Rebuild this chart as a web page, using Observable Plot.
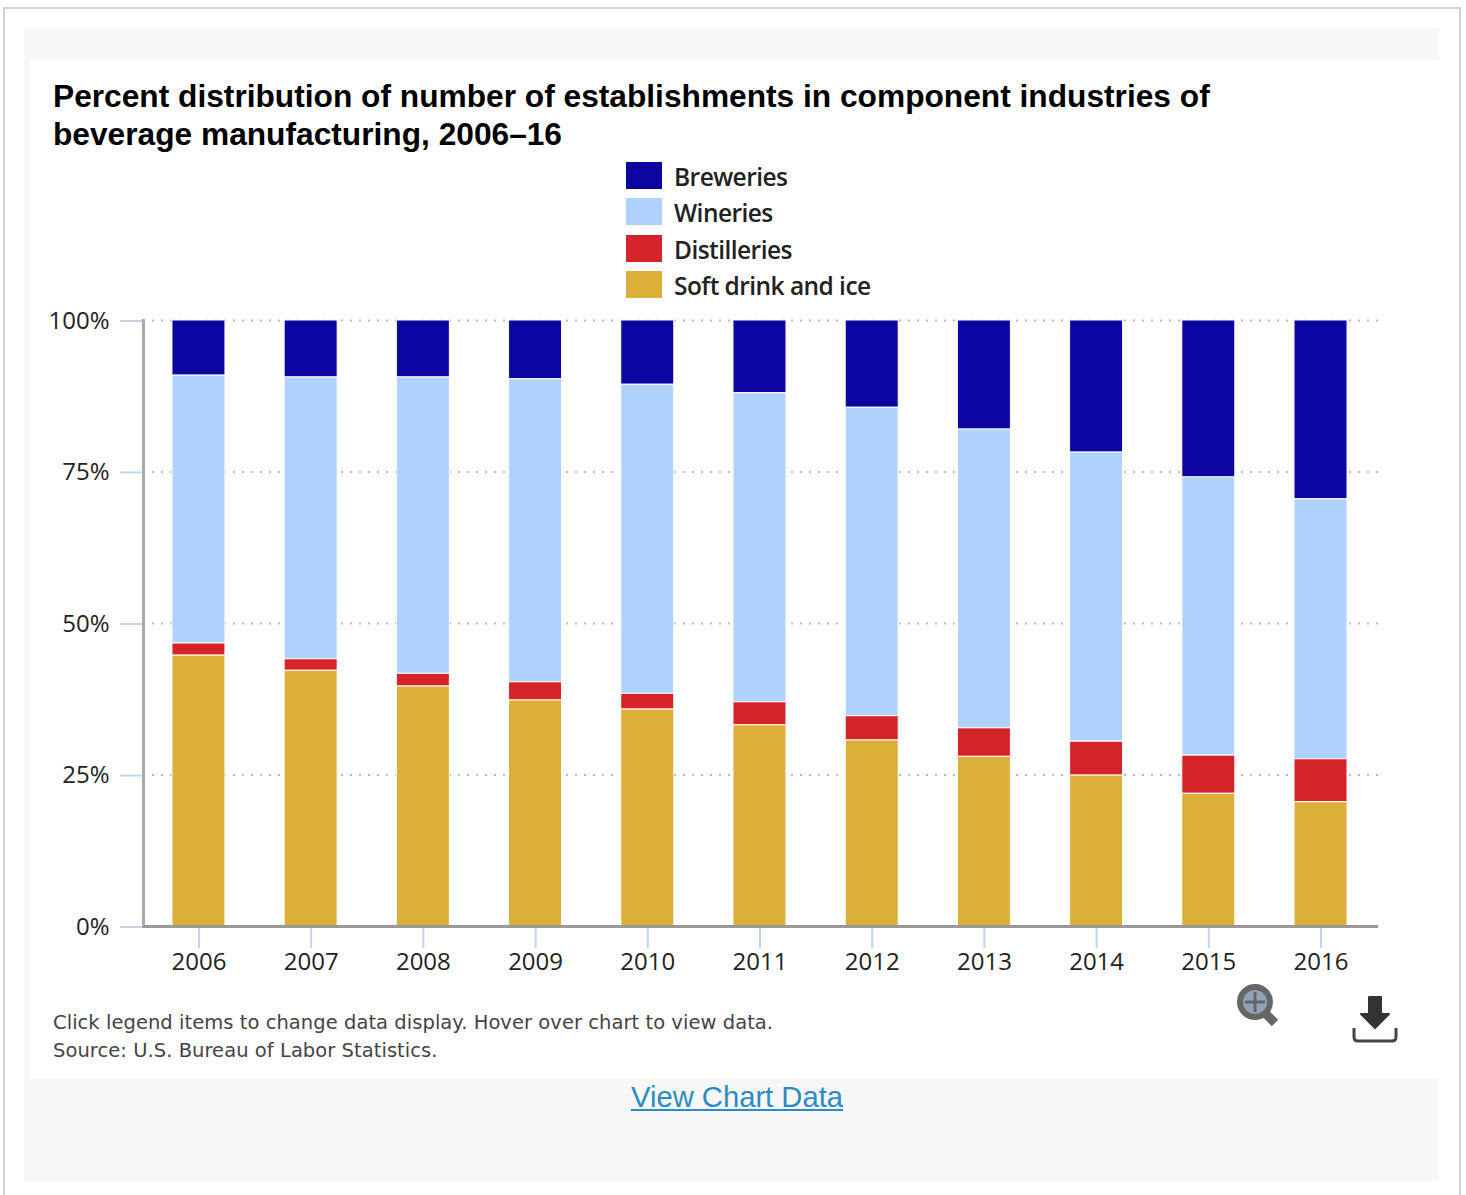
<!DOCTYPE html>
<html><head><meta charset="utf-8">
<script src="https://cdn.jsdelivr.net/npm/d3@7"></script>
<script src="https://cdn.jsdelivr.net/npm/@observablehq/plot@0.6"></script>
<style>
html,body{margin:0;padding:0;background:#fff;overflow:hidden;width:1466px;height:1195px}
#page{position:relative;width:1466px;height:1195px;overflow:hidden}
.a{position:absolute;white-space:nowrap}
#frame{left:3px;top:7px;width:1458px;height:1300px;border:2px solid #d2d2d2;box-sizing:border-box}
#grey{left:24px;top:28px;width:1415px;height:1153px;background:#f7f7f7}
#white{left:30px;top:60px;width:1409px;height:1018px;background:#fff}
#title{left:53px;top:77px;font:bold 31.7px/38px "Liberation Sans";color:#000;white-space:pre}
#legend .sw{position:absolute;left:626px;width:36px;height:27px}
#legend .lb{position:absolute;left:674px;font:600 24.5px/30px "Open Sans";letter-spacing:-.55px;color:#222;white-space:nowrap}
#note{left:53px;top:1009px;font:19.5px/28px "DejaVu Sans";letter-spacing:.05px;color:#444;white-space:pre}
#link{left:631px;top:1079px;font:29.2px/36px "Liberation Sans";color:#2b8cc4;text-decoration:underline}
#chart{left:0;top:280px}
#chart svg{display:block;overflow:visible}
</style></head><body>
<div id="page">
<div class="a" id="frame"></div>
<div class="a" id="grey"></div>
<div class="a" id="white"></div>
<div class="a" id="title">Percent distribution of number of establishments in component industries of
beverage manufacturing, 2006–16</div>
<div class="a" id="legend" style="left:0;top:0"></div>
<div class="a" id="chart"></div>
<div class="a" id="note">Click legend items to change data display. Hover over chart to view data.
Source: U.S. Bureau of Labor Statistics.</div>
<a class="a" id="link">View Chart Data</a>
<svg class="a" style="left:1230px;top:978px" width="56" height="52" viewBox="0 0 56 52">
<circle cx="25" cy="24" r="15" fill="#8fa3b8" stroke="#666" stroke-width="6"/>
<path d="M25 14V34M15 24H35" stroke="#666" stroke-width="3"/>
<path d="M35 35L45 45" stroke="#666" stroke-width="9"/>
</svg>
<svg class="a" style="left:1350px;top:994px" width="50" height="52" viewBox="0 0 50 52">
<path d="M19 3H31V20H39L25 34L11 20H19Z" fill="#333" stroke="#333" stroke-width="2" stroke-linejoin="round"/>
<path d="M4 34V43Q4 47 8 47H42Q46 47 46 43V34" fill="none" stroke="#444" stroke-width="3"/>
</svg>
</div>
<script>
const years = [2006,2007,2008,2009,2010,2011,2012,2013,2014,2015,2016];
const seriesNames = ["Breweries","Wineries","Distilleries","Soft drink and ice"];
const seriesColors = ["#0d05a0","#b0d2ff","#d4242a","#dcb038"];
const softDrink  = [44.7,42.2,39.6,37.3,35.8,33.2,30.7,28.0,24.9,21.9,20.5];
const distillery = [2.0,1.9,2.1,3.0,2.6,3.8,4.0,4.7,5.6,6.3,7.1];
const winery     = [44.2,46.5,48.9,50.0,51.0,51.0,50.9,49.3,47.7,45.9,42.9];
const brewery    = [9.1,9.4,9.4,9.7,10.6,12.0,14.4,18.0,21.8,25.9,29.5];
const yTicks = [0,25,50,75,100];

const columns = {"Breweries":brewery,"Wineries":winery,"Distilleries":distillery,"Soft drink and ice":softDrink};
const rows = seriesNames.flatMap(s => years.map((yr,i) => ({year:yr, series:s, value:columns[s][i]})));
const stackOrder = [...seriesNames].reverse();

const plot = Plot.plot({
  width:1466, height:720,
  marginLeft:143, marginRight:88, marginTop:40, marginBottom:74,
  style:{background:"transparent", overflow:"visible"},
  x:{type:"band", domain:years, paddingInner:0.5276, paddingOuter:0.267, align:0.483, round:false, label:null},
  y:{domain:[0,100], label:null},
  color:{domain:seriesNames, range:seriesColors},
  marks:[
    Plot.gridY(yTicks,{stroke:"#bbb",strokeOpacity:1,strokeWidth:2,strokeDasharray:"2 7"}),
    Plot.barY(rows,Plot.stackY({x:"year",y:"value",fill:"series",order:stackOrder,stroke:"#fff",strokeWidth:1})),
    Plot.axisY({ticks:yTicks,tickFormat:d=>d+"%",tickSize:23,tickPadding:11,dy:0.5,stroke:"#c4d4e6",fill:"#222",fontSize:24,fontFamily:"Open Sans",strokeWidth:2,label:null}),
    Plot.axisX({tickSize:22,tickPadding:4,stroke:"#c4d4e6",fill:"#222",fontSize:24,fontFamily:"Open Sans",strokeWidth:2,label:null,tickFormat:d=>String(d)}),
    Plot.frame({anchor:"left",stroke:"#aaa",strokeWidth:3}),
    Plot.ruleY([0],{stroke:"#999",strokeWidth:3})
  ]
});
document.getElementById("chart").appendChild(plot);

const legend = document.getElementById("legend");
const legendTops = [162,198,235,271];
seriesNames.forEach((s,i)=>{
  const sw=document.createElement("div");sw.className="sw";sw.style.top=legendTops[i]+"px";sw.style.background=seriesColors[i];
  const lb=document.createElement("div");lb.className="lb";lb.style.top=(legendTops[i]+0)+"px";lb.textContent=s;
  legend.append(sw,lb);
});
</script>
</body></html>
